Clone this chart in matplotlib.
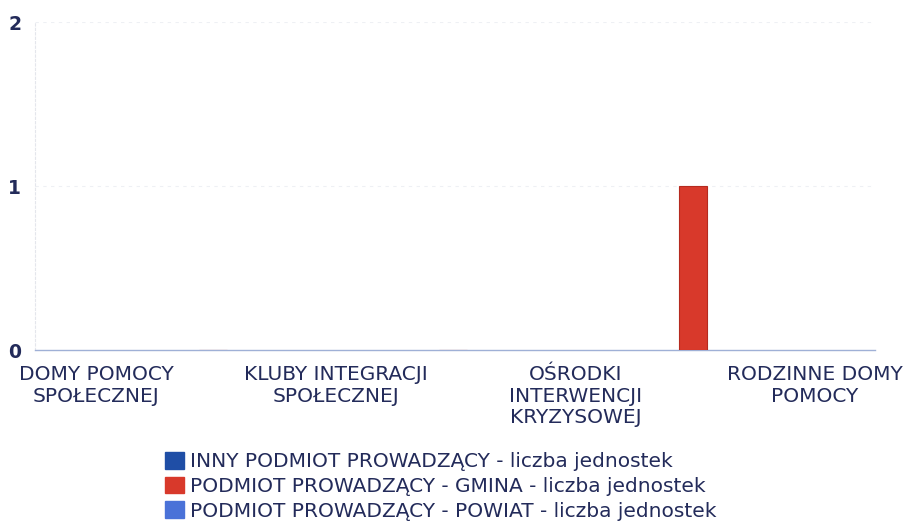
import matplotlib
matplotlib.use("Agg")
import matplotlib.pyplot as plt
from matplotlib.patches import Patch
import numpy as np

categories = ["DOMY POMOCY\nSPOŁECZNEJ", "KLUBY INTEGRACJI\nSPOŁECZNEJ",
              "OŚRODKI\nINTERWENCJI\nKRYZYSOWEJ", "RODZINNE DOMY\nPOMOCY"]
series_names = ["INNY PODMIOT PROWADZĄCY - liczba jednostek",
                "PODMIOT PROWADZĄCY - GMINA - liczba jednostek",
                "PODMIOT PROWADZĄCY - POWIAT - liczba jednostek"]
inny = [0, 0, 0, 0]
gmina = [0, 0, 1, 0]
powiat = [0, 0, 0, 0]
y_ticks = [0, 1, 2]

colors = ["#1f4ea6", "#d8392b", "#4a72d8"]
text_color = "#232b5a"
font = "DejaVu Sans"

fig = plt.figure(figsize=(9.09, 5.24), dpi=100)
ax = fig.add_axes([35/909, 1 - 350/524, 840/909, 328/524])

x = np.arange(len(categories))
width = 0.117
offsets = [0.37, 0.49, 0.61]
for vals, off, col in zip([inny, gmina, powiat], offsets, colors):
    is_gmina = col == colors[1]
    ax.bar(x + off, vals, width=width, color=col,
           edgecolor="#b52a1f" if is_gmina else col,
           linewidth=0.8 if is_gmina else 0, zorder=3)

ax.set_xlim(-0.254, 3.25)
ax.set_ylim(0, 2)
ax.set_yticks(y_ticks)
ax.set_yticklabels([str(v) for v in y_ticks], fontsize=13.5, color=text_color, family=font,
                   fontweight="semibold")
ax.set_xticks(x)
ax.set_xticklabels(categories, fontsize=14.5, color=text_color, family=font, linespacing=1.15)
ax.tick_params(axis="both", length=0)
ax.tick_params(axis="y", pad=10)
ax.tick_params(axis="x", pad=11)

for s in ["top", "right"]:
    ax.spines[s].set_visible(False)
ax.spines["left"].set_color("#e4e6ec")
ax.spines["left"].set_linestyle((0, (2, 2)))
ax.spines["left"].set_linewidth(0.8)
ax.spines["bottom"].set_color("#9fb0d6")
ax.spines["bottom"].set_linestyle((0, (2, 1)))
ax.spines["bottom"].set_linewidth(1.0)
for yv in y_ticks[1:]:
    ax.axhline(yv, color="#eef0f4", linestyle=(0, (3, 4)), linewidth=0.8, zorder=1)

handles = [Patch(facecolor=c, edgecolor=c) for c in colors]
fig.legend(handles, series_names, loc="upper left", bbox_to_anchor=(165/909, 1 - 452/524),
           frameon=False, labelcolor=text_color, prop={"family": font, "size": 14.5},
           handlelength=0.95, handleheight=0.9, handletextpad=0.3, labelspacing=0.27,
           borderpad=0, borderaxespad=0)

fig.savefig("out.png", dpi=100, facecolor="white")
